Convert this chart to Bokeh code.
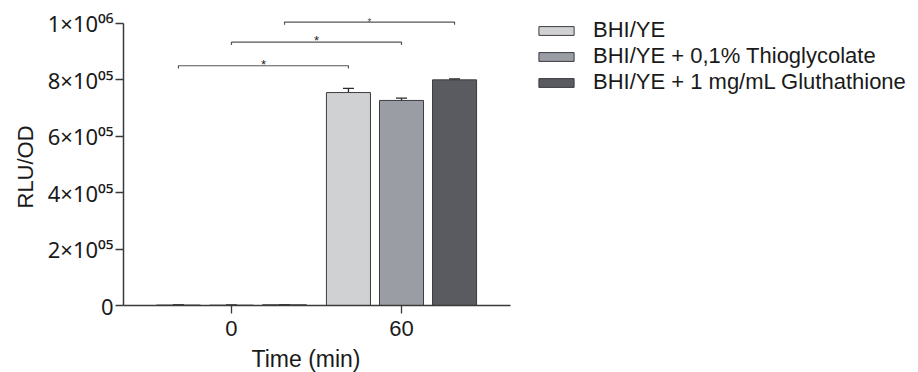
from bokeh.plotting import figure
from bokeh.models import (ColumnDataSource, FixedTicker, Legend, LegendItem,
                          Whisker, TeeHead, Range1d, Title)
from bokeh.core.properties import value
from bokeh.embed import file_html
from bokeh.resources import INLINE

# ---------------- data ----------------
time_groups = ["0", "60"]
series_names = ["BHI/YE", "BHI/YE + 0,1% Thioglycolate", "BHI/YE + 1 mg/mL Gluthathione"]
bhi_mean = [1500, 755000]
thio_mean = [1200, 727000]
glut_mean = [2500, 800000]
bhi_sem = [300, 15000]
thio_sem = [300, 8000]
glut_sem = [300, 3000]
y_tick_values = [0, 200000, 400000, 600000, 800000, 1000000]
y_tick_labels = ["0", "2×10⁰⁵", "4×10⁰⁵", "6×10⁰⁵", "8×10⁰⁵", "1×10⁰⁶"]
x_axis_title = "Time (min)"
y_axis_title = "RLU/OD"
# significance brackets: series index compared between time 0 and time 60
bracket_series = [0, 1, 2]
bracket_levels = [850000, 934000, 1005000]
bracket_marks = ["*", "*", "*"]

# ---------------- style ----------------
colors = ["#d0d1d3", "#9b9da4", "#5a5b60"]
FONT = "Liberation Sans"
TICK_FONT = "Noto Sans"
DODGE = 0.312
BAR_W = 0.259
TEXT_COL = "#1a1a1a"
AXIS_COL = "#3a3a3a"

means = [bhi_mean, thio_mean, glut_mean]
sems = [bhi_sem, thio_sem, glut_sem]

p = figure(frame_width=387, frame_height=297,
           output_backend="svg", toolbar_location=None,
           x_range=Range1d(-0.635, 1.641), y_range=Range1d(0, 1.053e6),
           min_border_left=123, min_border_top=8, min_border_bottom=67,
           min_border_right=408)
p.outline_line_color = None
p.xgrid.visible = False
p.ygrid.visible = False
p.background_fill_color = "white"

renderers = []
for s, name in enumerate(series_names):
    xs = [g + (s - 1) * DODGE for g in range(len(time_groups))]
    src = ColumnDataSource(dict(
        x=xs, top=means[s],
        upper=[m + e for m, e in zip(means[s], sems[s])],
        lower=[m - e for m, e in zip(means[s], sems[s])],
    ))
    r = p.vbar(x="x", top="top", bottom=0, width=BAR_W, source=src,
               fill_color=colors[s], line_color="#3c3c40", line_width=1)
    renderers.append(r)
    w = Whisker(source=src, base="x", upper="upper", lower="lower",
                line_color="#2a2a2a", line_width=1.3,
                upper_head=TeeHead(size=11, line_color="#2a2a2a", line_width=1.3),
                lower_head=TeeHead(size=11, line_color="#2a2a2a", line_width=1.3))
    p.add_layout(w)

# brackets
tick_len = 10000
bx, by, sx, sy = [], [], [], []
for s, lvl in zip(bracket_series, bracket_levels):
    x0 = 0 + (s - 1) * DODGE
    x1 = 1 + (s - 1) * DODGE
    bx.append([x0, x0, x1, x1])
    by.append([lvl - tick_len, lvl, lvl, lvl - tick_len])
    sx.append((x0 + x1) / 2)
    sy.append(lvl)
p.multi_line(xs=bx, ys=by, line_color="#555555", line_width=1.2)
star_src = ColumnDataSource(dict(x=sx, y=sy, t=bracket_marks,
                                 fs=["13px", "13px", "10px"],
                                 c=["#222222", "#222222", "#555555"]))
p.text(x="x", y="y", text="t", source=star_src, text_font=value(FONT),
       text_font_size="fs", text_color="c", text_align="center",
       text_baseline="bottom", y_offset=6)

# axes
xa = p.xaxis[0]
xa.ticker = FixedTicker(ticks=list(range(len(time_groups))))
xa.major_label_overrides = {i: t for i, t in enumerate(time_groups)}
xa.minor_tick_line_color = None
xa.major_tick_in = 0
xa.major_tick_out = 8
xa.axis_line_color = AXIS_COL
xa.axis_line_width = 1.5
xa.major_tick_line_color = AXIS_COL
xa.major_tick_line_width = 1.3
xa.major_label_text_font = FONT
xa.major_label_text_font_size = "22px"
xa.major_label_text_color = TEXT_COL
xa.major_label_standoff = 7

# x-axis title, placed where the original puts it (slightly left of frame centre)
p.add_layout(Title(text=x_axis_title, align="left", offset=128,
                   text_font=FONT, text_font_size="23px",
                   text_font_style="normal", text_color=TEXT_COL,
                   standoff=10), "below")

ya = p.yaxis[0]
ya.ticker = FixedTicker(ticks=y_tick_values)
ya.major_label_overrides = {v: t for v, t in zip(y_tick_values, y_tick_labels)}
ya.bounds = (y_tick_values[0], y_tick_values[-1])
ya.minor_tick_line_color = None
ya.major_tick_in = 0
ya.major_tick_out = 8
ya.axis_line_color = AXIS_COL
ya.axis_line_width = 1.5
ya.major_tick_line_color = AXIS_COL
ya.major_tick_line_width = 1.3
ya.major_label_text_font = TICK_FONT
ya.major_label_text_font_size = "22px"
ya.major_label_text_color = TEXT_COL
ya.major_label_standoff = 2

# y-axis title, centred on the drawn part of the axis (0 .. 1e6)
p.add_layout(Title(text=y_axis_title, align="left", offset=97,
                   text_font=FONT, text_font_size="22px",
                   text_font_style="normal", text_color=TEXT_COL,
                   standoff=14), "left")

legend = Legend(
    items=[LegendItem(label=n, renderers=[r]) for n, r in zip(series_names, renderers)],
    location=(24, 210), glyph_width=44, glyph_height=11,
    label_text_font=FONT, label_text_font_size="22px", label_text_color=TEXT_COL,
    label_standoff=15, label_height=25, padding=0, margin=0, spacing=0,
    border_line_color=None, background_fill_alpha=0,
)
p.add_layout(legend, "right")

open("out.html", "w").write(file_html(p, INLINE))
